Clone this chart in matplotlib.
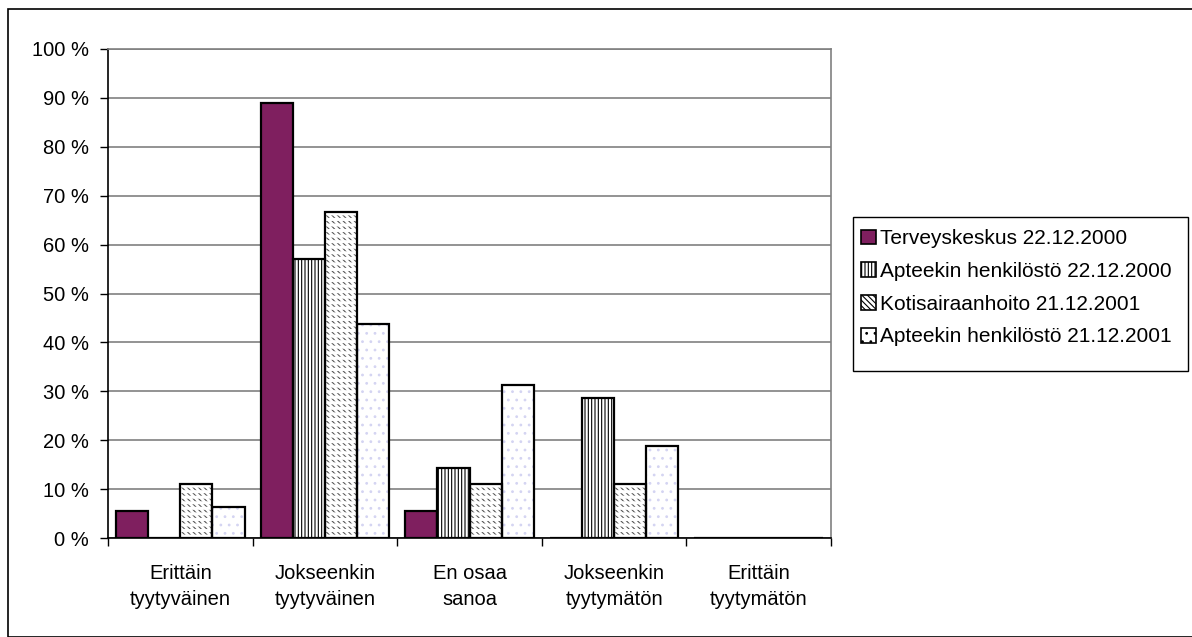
import numpy as np
import matplotlib.pyplot as plt
import matplotlib
from matplotlib.patches import Rectangle

matplotlib.rcParams['font.family'] = ['Liberation Sans', 'DejaVu Sans']
matplotlib.rcParams['hatch.linewidth'] = 0.8

# Vastausluokat ja sarjat (%)
categories = ['Erittäin\ntyytyväinen', 'Jokseenkin\ntyytyväinen', 'En osaa\nsanoa',
              'Jokseenkin\ntyytymätön', 'Erittäin\ntyytymätön']
series_names = ['Terveyskeskus 22.12.2000', 'Apteekin henkilöstö 22.12.2000',
                'Kotisairaanhoito 21.12.2001', 'Apteekin henkilöstö 21.12.2001']
terveyskeskus_2000 = [5.6, 88.9, 5.6, 0.0, 0.0]
apteekki_2000 = [0.0, 57.1, 14.3, 28.6, 0.0]
kotisairaanhoito_2001 = [11.1, 66.7, 11.1, 11.1, 0.0]
apteekki_2001 = [6.25, 43.75, 31.25, 18.75, 0.0]
yticks = list(range(0, 101, 10))

values = [terveyskeskus_2000, apteekki_2000, kotisairaanhoito_2001, apteekki_2001]
# (täyttöväri, kuvio, kuvion väri)
styles = [('#7f1f5f', None, None),
          ('white', '|||||', 'black'),
          ('white', '\\\\\\\\\\\\', '#555555'),
          ('white', '..', '#d4d4f2')]

fig = plt.figure(figsize=(11.92, 6.37), dpi=100)
ax = fig.add_axes([108 / 1192, 1 - 538 / 637, (831 - 108) / 1192, (538 - 49) / 637])

x = np.arange(len(categories))
width = 0.222
offsets = (np.arange(4) - 1.5) * width

for i, (vals, off, (fc, hatch, hc)) in enumerate(zip(values, offsets, styles)):
    if hatch:
        ax.bar(x + off, vals, width, color=fc, hatch=hatch, edgecolor=hc, linewidth=0, zorder=3)
        if i == 2:
            # valkoiset vaakaviivat jakavat vinoviivat riveiksi
            with matplotlib.rc_context({'hatch.linewidth': 2.2}):
                ax.bar(x + off, vals, width, fill=False, hatch='---', edgecolor='white',
                       linewidth=0, zorder=3.5)
        ax.bar(x + off, vals, width, fill=False, edgecolor='black', linewidth=1.6, zorder=4)
    else:
        ax.bar(x + off, vals, width, color=fc, edgecolor='black', linewidth=1.6, zorder=3)

ax.set_xlim(-0.5, len(categories) - 0.5)
ax.set_ylim(0, 100)
ax.set_yticks(yticks)
ax.set_yticklabels([f'{t} %' for t in yticks], fontsize=14.5)
ax.yaxis.grid(True, color='#808080', linewidth=1.2, zorder=0)
ax.set_axisbelow(True)

# luokkien rajat x-akselilla
ax.set_xticks(np.arange(len(categories) + 1) - 0.5)
ax.set_xticklabels([])
ax.set_xticks(x, minor=True)
ax.set_xticklabels(categories, minor=True, fontsize=14.5, linespacing=1.45)
ax.tick_params(axis='x', which='minor', length=0, pad=19)
ax.tick_params(axis='x', which='major', length=6, width=1, direction='out')
ax.tick_params(axis='y', length=6, width=1, direction='out', pad=8)

for side in ['left', 'bottom']:
    ax.spines[side].set_color('black')
    ax.spines[side].set_linewidth(1.2)
ax.spines['top'].set_color('#808080')
ax.spines['right'].set_color('#808080')
ax.spines['top'].set_linewidth(1.2)
ax.spines['right'].set_linewidth(1.2)

# selite (kehys piirretään erikseen)
handles = []
for fc, hatch, hc in styles:
    handles.append(Rectangle((0, 0), 1, 1, facecolor=fc, hatch=hatch,
                             edgecolor='black', linewidth=1.2))
leg = fig.legend(handles, series_names, loc='upper left',
                 bbox_to_anchor=(855 / 1192, 1 - 223 / 637), fontsize=15,
                 frameon=False, handlelength=0.7, handleheight=0.7, handletextpad=0.2,
                 labelspacing=0.66, borderpad=0.3, borderaxespad=0)
fig.patches.append(Rectangle((853 / 1192, 1 - 371 / 637), (1188 - 853) / 1192, (371 - 217) / 637,
                             transform=fig.transFigure, fill=False, edgecolor='black',
                             linewidth=1.0))

# kaavioalueen reunus
fig.patches.append(Rectangle((8 / 1192, 0), 1.2, 1 - 9 / 637, transform=fig.transFigure,
                             fill=False, edgecolor='black', linewidth=1.2))

plt.savefig('out.png', dpi=100)
plt.close()
